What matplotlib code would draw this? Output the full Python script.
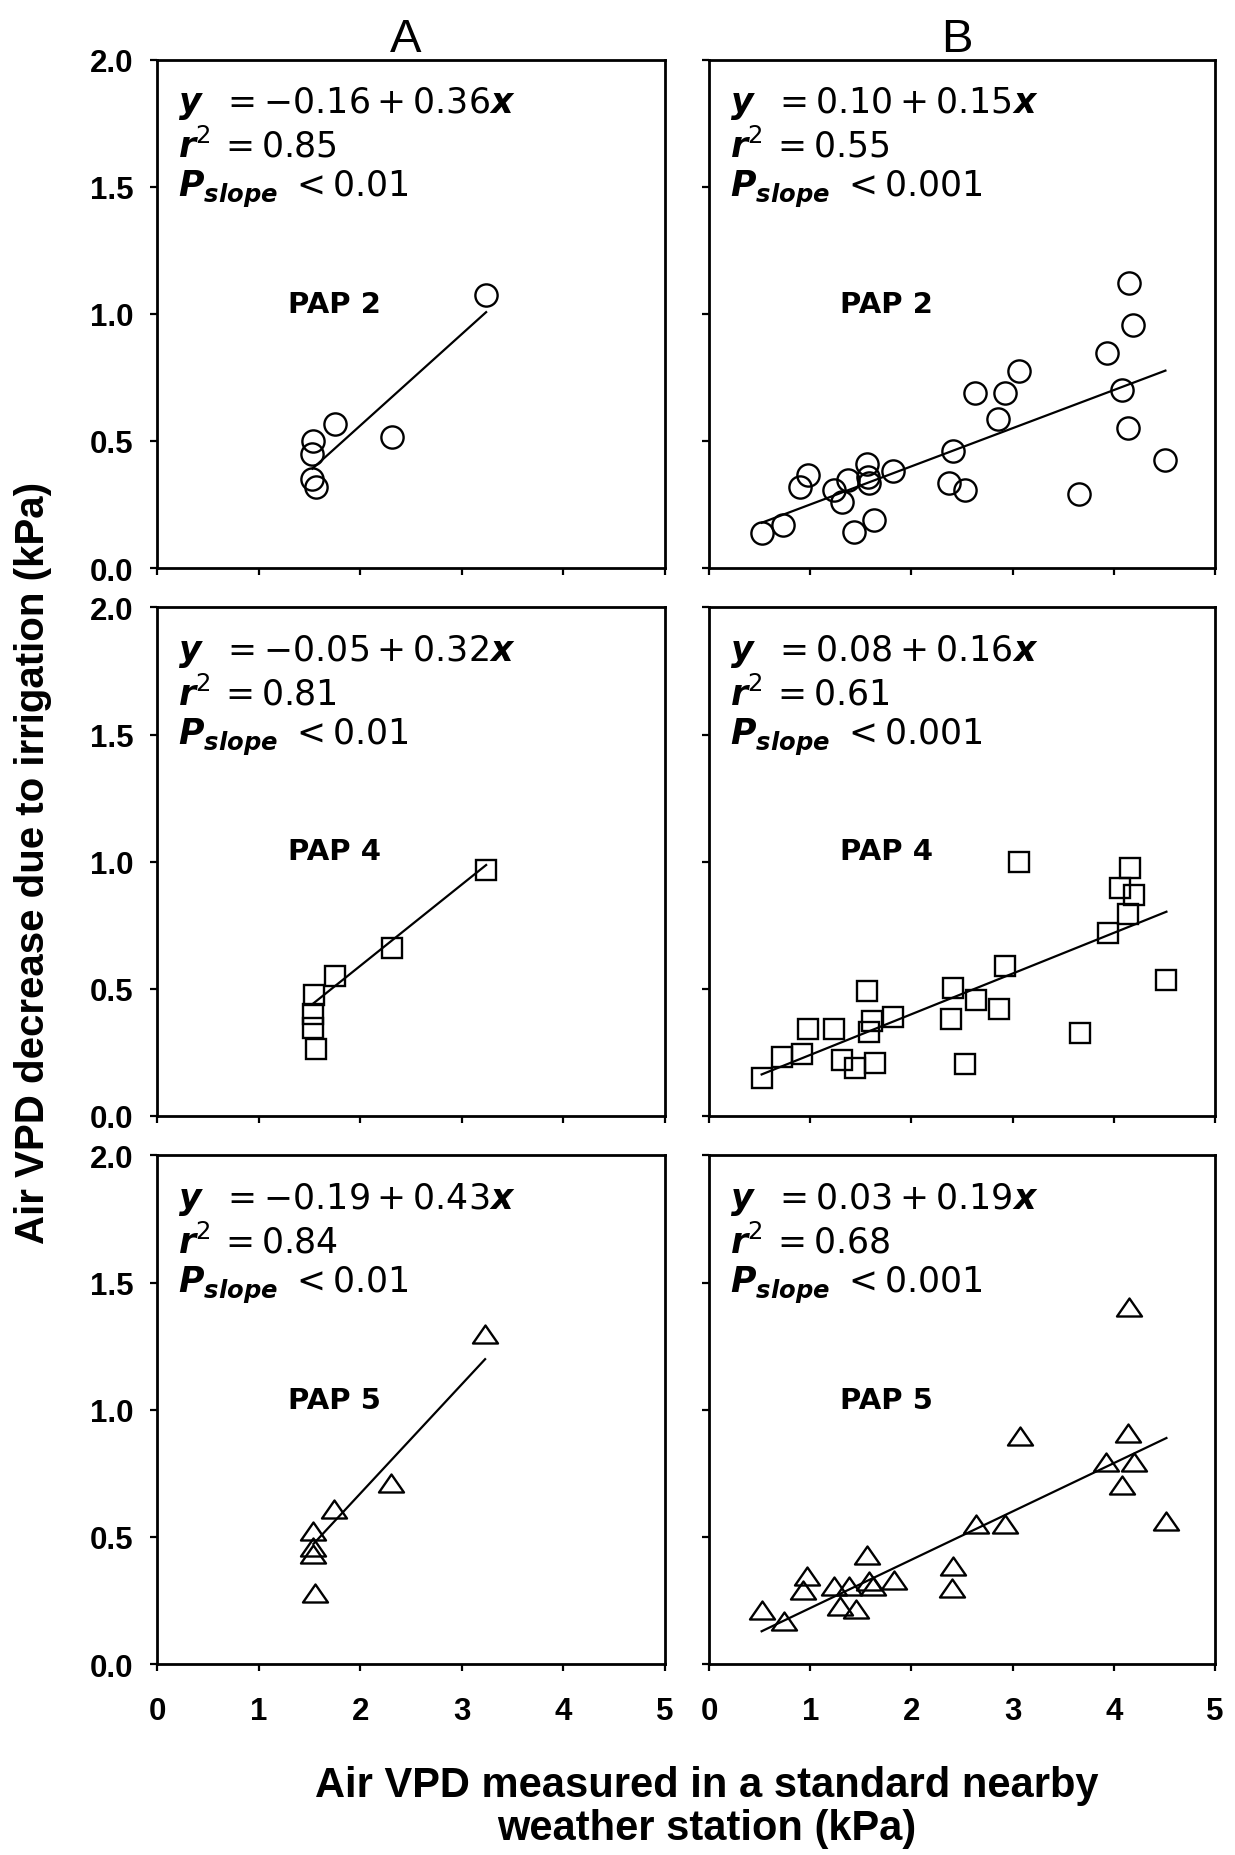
import matplotlib
matplotlib.use("Agg")
import matplotlib.pyplot as plt
from matplotlib.path import Path
import numpy as np

plt.rcParams['font.family'] = ['Liberation Sans', 'DejaVu Sans']
plt.rcParams['mathtext.fontset'] = 'custom'
plt.rcParams['mathtext.rm'] = 'DejaVu Sans'
plt.rcParams['mathtext.it'] = 'DejaVu Sans:italic'
plt.rcParams['mathtext.bf'] = 'DejaVu Sans:bold:italic'

# ---------------- data ----------------
# Column A, PAP 2 (circles)
a2_x = [3.24, 1.75, 2.31, 1.54, 1.53, 1.53, 1.57]
a2_y = [1.075, 0.567, 0.517, 0.50, 0.45, 0.35, 0.32]
# Column B, PAP 2
b2_x = [0.52, 0.73, 0.90, 0.98, 1.24, 1.31, 1.37, 1.43, 1.56, 1.58, 1.57, 1.63,
        1.82, 2.41, 2.37, 2.53, 2.63, 2.92, 2.86, 3.06, 3.66, 3.93, 4.08, 4.15,
        4.19, 4.14, 4.51]
b2_y = [0.136, 0.17, 0.32, 0.367, 0.306, 0.26, 0.347, 0.143, 0.41, 0.333, 0.36,
        0.19, 0.38, 0.46, 0.333, 0.306, 0.687, 0.687, 0.585, 0.776, 0.293, 0.844,
        0.70, 1.12, 0.956, 0.551, 0.426]
# Column A, PAP 4 (squares)
a4_x = [3.24, 2.31, 1.75, 1.55, 1.54, 1.54, 1.57]
a4_y = [0.969, 0.66, 0.551, 0.476, 0.40, 0.347, 0.265]
# Column B, PAP 4
b4_x = [0.52, 0.72, 0.915, 0.976, 1.24, 1.31, 1.44, 1.64, 1.56, 1.61, 1.58, 1.82,
        2.41, 2.39, 2.64, 2.53, 2.87, 2.92, 3.06, 3.67, 3.94, 4.16, 4.06, 4.20,
        4.14, 4.52]
b4_y = [0.15, 0.231, 0.245, 0.34, 0.34, 0.22, 0.19, 0.21, 0.49, 0.374, 0.33, 0.388,
        0.503, 0.38, 0.456, 0.204, 0.42, 0.59, 0.997, 0.327, 0.72, 0.977, 0.898,
        0.87, 0.796, 0.533]
# Column A, PAP 5 (triangles)
a5_x = [3.23, 2.30, 1.74, 1.54, 1.54, 1.54, 1.56]
a5_y = [1.296, 0.712, 0.61, 0.522, 0.46, 0.434, 0.28]
# Column B, PAP 5
b5_x = [0.52, 0.74, 0.925, 0.97, 1.24, 1.29, 1.38, 1.45, 1.56, 1.62, 1.58, 1.83,
        2.41, 2.40, 2.64, 2.92, 3.07, 3.92, 4.14, 4.20, 4.08, 4.15, 4.52]
b5_y = [0.213, 0.17, 0.292, 0.346, 0.305, 0.23, 0.305, 0.217, 0.427, 0.305, 0.326,
        0.332, 0.387, 0.30, 0.55, 0.55, 0.896, 0.794, 0.91, 0.794, 0.706, 1.404,
        0.563]

# regression coefficients (intercept, slope) and stats text
intercepts = [[-0.16, 0.10], [-0.05, 0.08], [-0.19, 0.03]]
slopes = [[0.36, 0.15], [0.32, 0.16], [0.43, 0.19]]
r2_vals = [["0.85", "0.55"], ["0.81", "0.61"], ["0.84", "0.68"]]
p_vals = [["0.01", "0.001"], ["0.01", "0.001"], ["0.01", "0.001"]]
site_labels = ["PAP 2", "PAP 4", "PAP 5"]
col_titles = ["A", "B"]
x_ticks = [0, 1, 2, 3, 4, 5]
y_ticks = [0.0, 0.5, 1.0, 1.5, 2.0]
ylabel = "Air VPD decrease due to irrigation (kPa)"
xlabel_l1 = "Air VPD measured in a standard nearby"
xlabel_l2 = "weather station (kPa)"

xs = [[a2_x, b2_x], [a4_x, b4_x], [a5_x, b5_x]]
ys = [[a2_y, b2_y], [a4_y, b4_y], [a5_y, b5_y]]
tri = Path([(-1.0, -0.72), (1.0, -0.72), (0.0, 0.72), (-1.0, -0.72)], closed=True)
markers = ['o', 's', tri]
msizes = [16, 15, 18]

# ---------------- figure ----------------
fig = plt.figure(figsize=(12.35, 18.56), dpi=100)
lefts = [0.1271, 0.5741]
widths = [0.4113, 0.4097]
bottoms = [0.6934, 0.3982, 0.1029]
height = 0.2740

for r in range(3):
    for c in range(2):
        ax = fig.add_axes([lefts[c], bottoms[r], widths[c], height])
        x = np.array(xs[r][c])
        y = np.array(ys[r][c])
        xl = np.array([x.min(), x.max()])
        ax.plot(xl, intercepts[r][c] + slopes[r][c] * xl, color='black', lw=1.6, zorder=2)
        ax.plot(x, y, ls='none', marker=markers[r], ms=msizes[r], mfc='none',
                mec='black', mew=1.7, zorder=3)
        ax.set_xlim(0, 5)
        ax.set_ylim(0, 2)
        ax.set_xticks(x_ticks)
        ax.set_yticks(y_ticks)
        ax.tick_params(direction='out', length=5, width=1.6, top=False, right=False)
        ax.tick_params(axis='y', pad=12)
        ax.tick_params(axis='x', pad=18)
        for sp in ax.spines.values():
            sp.set_linewidth(2.0)
        if c == 0:
            ax.set_yticklabels([f"{v:.1f}" for v in y_ticks], fontsize=22.5, fontweight='bold')
        else:
            ax.set_yticklabels([])
        if r == 2:
            ax.set_xticklabels([str(v) for v in x_ticks], fontsize=22.5, fontweight='bold')
        else:
            ax.set_xticklabels([])

        b = intercepts[r][c]
        bstr = f"-{abs(b):.2f}" if b < 0 else f"{b:.2f}"
        eq = r'$\mathbf{y}\hspace{0.6}= ' + bstr + ' + ' + f"{slopes[r][c]:.2f}" + r'\mathbf{x}$'
        ax.text(0.041, 0.897, eq, transform=ax.transAxes, fontsize=25, va='baseline', ha='left')
        ax.text(0.041, 0.809, r'$\mathbf{r}^2\hspace{0.2}= ' + r2_vals[r][c] + '$',
                transform=ax.transAxes, fontsize=25, va='baseline', ha='left')
        ax.text(0.041, 0.732, r'$\mathbf{P}_{\mathbf{slope}}\hspace{0.33}< ' + p_vals[r][c] + '$',
                transform=ax.transAxes, fontsize=25, va='baseline', ha='left')
        ax.text(1.75, 1.04, site_labels[r], fontsize=21, fontweight='bold',
                family=['DejaVu Sans'], ha='center', va='center')
        if r == 0:
            ax.text(0.49, 1.016, col_titles[c], transform=ax.transAxes, fontsize=34,
                    ha='center', va='baseline')

fig.text(0.027, 0.535, ylabel, rotation=90, fontsize=29, fontweight='bold',
         ha='center', va='center')
fig.text(0.572, 0.0318, xlabel_l1, fontsize=30, fontweight='bold', ha='center', va='baseline')
fig.text(0.572, 0.0086, xlabel_l2, fontsize=30, fontweight='bold', ha='center', va='baseline')

fig.savefig("out.png", dpi=100)
